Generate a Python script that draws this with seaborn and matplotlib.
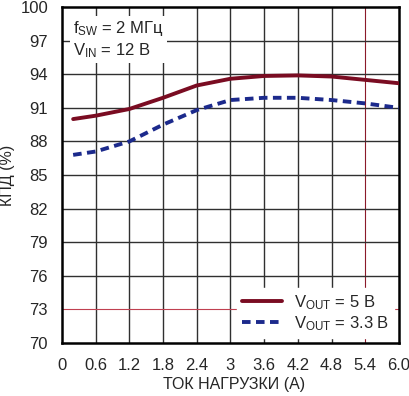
import numpy as np
import pandas as pd
import matplotlib
matplotlib.use("Agg")
import matplotlib.pyplot as plt
import seaborn as sns

# значения
load_current = [0.2, 0.6, 1.2, 1.8, 2.4, 3.0, 3.6, 4.2, 4.8, 5.4, 6.0]
eff_5v = [90.0, 90.3, 90.9, 91.9, 93.0, 93.6, 93.85, 93.9, 93.8, 93.5, 93.2]
eff_3v3 = [86.8, 87.1, 88.0, 89.5, 90.8, 91.7, 91.9, 91.9, 91.7, 91.4, 91.0]
x_ticks = [0, 0.6, 1.2, 1.8, 2.4, 3.0, 3.6, 4.2, 4.8, 5.4, 6.0]
x_tick_labels = ["0", "0.6", "1.2", "1.8", "2.4", "3", "3.6", "4.2", "4.8", "5.4", "6.0"]
y_ticks = [70, 73, 76, 79, 82, 85, 88, 91, 94, 97, 100]
series_names = ["$\\mathregular{V_{OUT}}$ = 5 В", "$\\mathregular{V_{OUT}}$ = 3.3 В"]

df = pd.DataFrame({
    "I": load_current * 2,
    "eff": eff_5v + eff_3v3,
    "series": [series_names[0]] * len(eff_5v) + [series_names[1]] * len(eff_3v3),
})

sns.set_style("white")
plt.rcParams["font.family"] = ["Liberation Sans", "DejaVu Sans"]
plt.rcParams["mathtext.fontset"] = "custom"
plt.rcParams["mathtext.rm"] = "Liberation Sans"

FS = 12

fig = plt.figure(figsize=(4.1, 3.96), dpi=100)
ax = fig.add_axes([0.151, 0.134, 0.822, 0.848])

ax.set_xlim(0, 6.0)
ax.set_ylim(70, 100)
ax.set_xticks(x_ticks)
ax.set_xticklabels(x_tick_labels)
ax.set_yticks(y_ticks)

for xv in x_ticks[1:-1]:
    col = "#8b1a2a" if xv == 5.4 else "#303030"
    ax.axvline(xv, color=col, lw=1.0 if xv != 5.4 else 0.8, zorder=0)
for yv in y_ticks[1:-1]:
    col = "#c04050" if yv == 73 else "#303030"
    ax.axhline(yv, color=col, lw=1.0 if yv != 73 else 0.8, zorder=0)

sns.lineplot(data=df, x="I", y="eff", hue="series", style="series",
             palette=["#7a0c22", "#1c2a8c"], dashes=[(None, None), (2.2, 1.4)],
             linewidth=2.8, ax=ax, legend=False, zorder=3)

for s in ax.spines.values():
    s.set_linewidth(1.8)
    s.set_color("black")

ax.tick_params(axis="both", labelsize=FS, length=0)
ax.tick_params(axis="x", pad=11)
ax.tick_params(axis="y", pad=10)
ax.set_xlabel("ТОК НАГРУЗКИ (А)", fontsize=11.5)
ax.xaxis.set_label_coords(0.51, -0.125)
ax.xaxis.label.set_va("center")
ax.set_ylabel("КПД (%)", fontsize=11.5)
ax.yaxis.set_label_coords(-0.162, 0.5)
ax.yaxis.label.set_va("center")

ax.text(0.2, 98.9, "$\\mathregular{f_{SW}}$ = 2 МГц\n$\\mathregular{V_{IN}}$ = 12 В",
        fontsize=FS, va="top", ha="left", linespacing=1.2,
        bbox=dict(facecolor="white", edgecolor="none", pad=2), zorder=4)

handles = [plt.Line2D([], [], color="#7a0c22", lw=2.8),
           plt.Line2D([], [], color="#1c2a8c", lw=2.8, dashes=(2.2, 1.4))]
leg = ax.legend(handles, series_names, loc="lower right", fontsize=FS,
                frameon=True, fancybox=False, framealpha=1, edgecolor="white",
                handlelength=2.4, borderaxespad=0.3, labelspacing=0.15,
                handletextpad=0.7, borderpad=0.3)
leg.set_zorder(5)

fig.savefig("out.png", dpi=100)
